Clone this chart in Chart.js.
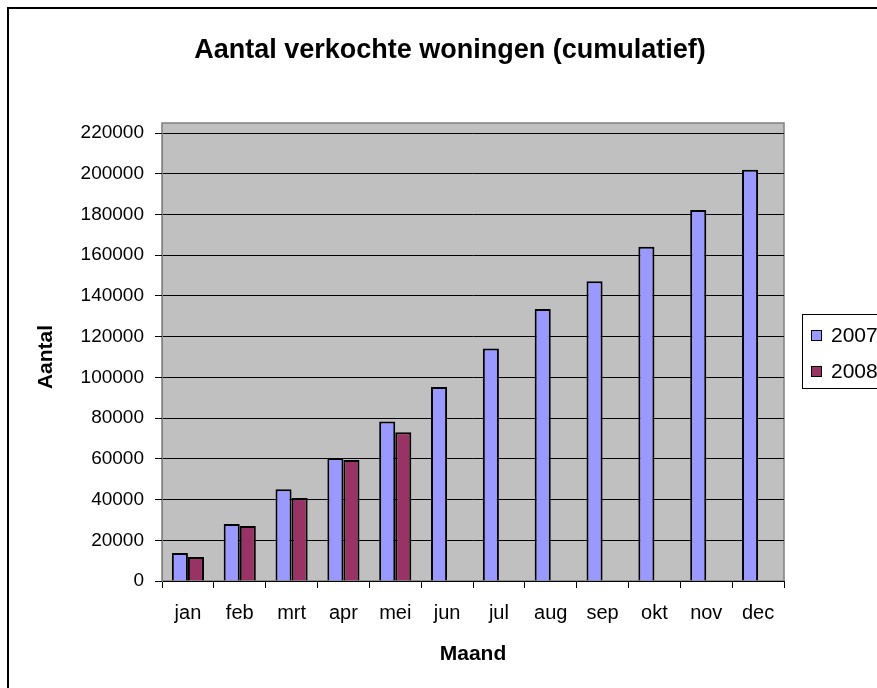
<!DOCTYPE html>
<html>
<head>
<meta charset="utf-8">
<title>Aantal verkochte woningen (cumulatief)</title>
<script src="https://cdn.jsdelivr.net/npm/chart.js@4/dist/chart.umd.min.js"></script>
<style>
    html, body { margin: 0; padding: 0; background: #fff; overflow: hidden; }
    canvas { display: block; }
</style>
</head>
<body>
<canvas id="chart1" width="900" height="688"></canvas>
<script>
'use strict';

// Months (x axis) and the two years.
const months = ['jan', 'feb', 'mrt', 'apr', 'mei', 'jun', 'jul', 'aug', 'sep', 'okt', 'nov', 'dec'];

const sales2007 = [13700, 28000, 45000, 60400, 78300, 95300, 114200, 133600, 147200, 164200, 182200, 201900];
// 2008 only goes up to May
const sales2008 = [11800, 27000, 40800, 59400, 73000, null, null, null, null, null, null, null];

const seriesLabels = ['2007', '2008'];
const seriesColours = ['#9999FF', '#993366'];

const yMax = 220000;
const yStep = 20000;

const FONT = "'Liberation Sans', Arial, sans-serif";

// Excel-ish look: grey plot area, outer frame, boxed legend on the right.
const excelLook = {
    id: 'excelLook',
    beforeDraw(chart) {
        const ctx = chart.ctx;
        const a = chart.chartArea;
        ctx.save();
        ctx.fillStyle = '#fff';
        ctx.fillRect(0, 0, chart.width, chart.height);

        // outer frame (right and bottom edges fall outside the window)
        ctx.strokeStyle = '#000';
        ctx.lineWidth = 2;
        ctx.strokeRect(8, 8, chart.width - 16, chart.height + 20);

        // plot area sits a bit higher than the top gridline
        ctx.fillStyle = '#C0C0C0';
        ctx.fillRect(a.left, a.top - 10, a.right - a.left, a.bottom - a.top + 10);
        ctx.strokeStyle = '#808080';
        ctx.lineWidth = 1.5;
        ctx.strokeRect(a.left, a.top - 10, a.right - a.left, a.bottom - a.top + 10);
        ctx.restore();
    },
    afterDraw(chart) {
        const ctx = chart.ctx;
        ctx.save();
        ctx.strokeStyle = '#000';
        ctx.lineWidth = 1;
        ctx.strokeRect(802.5, 314.5, 120, 74);

        ctx.font = '21px ' + FONT;
        ctx.textBaseline = 'middle';
        ctx.textAlign = 'left';
        const rows = [335, 371];
        chart.data.datasets.forEach((ds, i) => {
            ctx.fillStyle = ds.backgroundColor;
            ctx.fillRect(811, rows[i] - 5, 10, 10);
            ctx.strokeRect(811.5, rows[i] - 4.5, 10, 10);
            ctx.fillStyle = '#000';
            ctx.fillText(ds.label, 831, rows[i] + 1);
        });
        ctx.restore();
    }
};

const data1 = {
    labels: months,
    datasets: [
        {
            label: seriesLabels[0],
            data: sales2007,
            backgroundColor: seriesColours[0],
            borderColor: '#000',
            borderWidth: 2,
            borderSkipped: 'bottom',
        },
        {
            label: seriesLabels[1],
            data: sales2008,
            backgroundColor: seriesColours[1],
            borderColor: '#000',
            borderWidth: 2,
            borderSkipped: 'bottom',
        }
    ]
};

const config1 = {
    type: 'bar',
    data: data1,
    options: {
        responsive: false,
        animation: false,
        categoryPercentage: 0.62,
        barPercentage: 1,
        layout: { padding: 0 },
        plugins: {
            legend: { display: false },
            tooltip: { enabled: false },
            title: {
                display: true,
                text: 'Aantal verkochte woningen (cumulatief)',
                color: '#000',
                font: { family: FONT, size: 27, weight: 'bold' },
                padding: { top: 34, bottom: 66.6 },
            }
        },
        scales: {
            x: {
                grid: {
                    offset: true,
                    drawOnChartArea: false,
                    drawTicks: true,
                    tickLength: 7,
                    color: '#000',
                },
                border: { color: '#000', width: 1 },
                ticks: {
                    color: '#000',
                    padding: 13,
                    maxRotation: 0,
                    autoSkip: false,
                    font: { family: FONT, size: 20 },
                },
                title: {
                    display: true,
                    text: 'Maand',
                    color: '#000',
                    font: { family: FONT, size: 21, weight: 'bold' },
                    padding: { top: 0, bottom: 21 },
                },
                afterFit(scale) { scale.height = 107; }
            },
            y: {
                min: 0,
                max: yMax,
                grid: {
                    color: '#000',
                    lineWidth: 1,
                    tickLength: 7,
                },
                border: { color: '#808080', width: 1 },
                ticks: {
                    stepSize: yStep,
                    color: '#000',
                    padding: 11,
                    font: { family: FONT, size: 19 },
                    callback: (v) => String(v),
                },
                title: {
                    display: true,
                    text: 'Aantal',
                    color: '#000',
                    font: { family: FONT, size: 21, weight: 'bold' },
                    padding: { top: 34, bottom: 0 },
                },
                afterFit(scale) { scale.width = 162; }
            },
            // empty axis on the right, just to leave room for the legend box
            yRight: {
                position: 'right',
                grid: { display: false },
                border: { display: false },
                ticks: { display: false },
                afterFit(scale) { scale.width = 116; }
            }
        }
    },
    plugins: [excelLook]
};

const chart1 = new Chart(
    document.getElementById('chart1'),
    config1
);
</script>
</body>
</html>
